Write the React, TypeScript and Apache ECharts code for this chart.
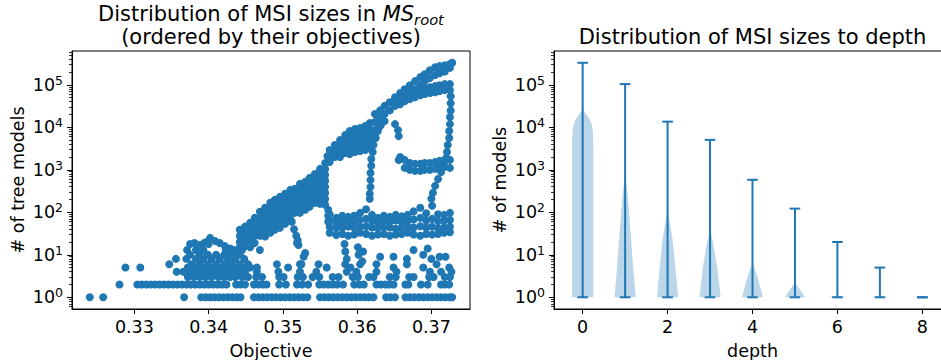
import React, { useEffect, useRef } from 'react';
import * as echarts from 'echarts';

const FONT = 'DejaVu Sans';
const BLUE = '#1f77b4';
const BODY = 'rgba(31,119,180,0.3)';

// ---------- Left panel data: objective vs # of tree models ----------
const objectiveTicks = [0.33, 0.34, 0.35, 0.36, 0.37];
const countTicks = [1, 10, 100, 1000, 10000, 100000];
const minorCountTicks = [0.6, 0.7, 0.8, 0.9, 2, 3, 4, 5, 6, 7, 8, 9, 20, 30, 40, 50, 60, 70, 80, 90,
  200, 300, 400, 500, 600, 700, 800, 900, 2000, 3000, 4000, 5000, 6000, 7000, 8000, 9000,
  20000, 30000, 40000, 50000, 60000, 70000, 80000, 90000, 200000, 300000, 400000, 500000, 600000];

// objectives of MSIs of size 1
const size1Objectives = [0.3240, 0.3258, 0.3367, 0.3390, 0.3396, 0.3402, 0.3408, 0.3414, 0.3420, 0.3426, 0.3432,
  0.3438, 0.3443, 0.3461, 0.3467, 0.3473, 0.3479, 0.3485, 0.3491, 0.3497, 0.3503, 0.3509, 0.3515, 0.3521, 0.3527,
  0.3533, 0.3550, 0.3556, 0.3562, 0.3568, 0.3574, 0.3580, 0.3586, 0.3592, 0.3598, 0.3604, 0.3610, 0.3616, 0.3622,
  0.3639, 0.3645, 0.3651, 0.3665, 0.3671, 0.3677, 0.3683, 0.3689, 0.3695, 0.3701, 0.3707, 0.3713, 0.3719, 0.3725, 0.3728];

// objectives of MSIs of size 2
const size2Objectives = [0.3280, 0.3304, 0.3310, 0.3316, 0.3322, 0.3328, 0.3334, 0.3340, 0.3346, 0.3352, 0.3358,
  0.3364, 0.3370, 0.3376, 0.3382, 0.3388, 0.3394, 0.3400, 0.3406, 0.3412, 0.3418, 0.3424, 0.3437, 0.3443, 0.3449,
  0.3461, 0.3467, 0.3473, 0.3478, 0.3495, 0.3504, 0.3519, 0.3526, 0.3534, 0.3549, 0.3555, 0.3561, 0.3567, 0.3573,
  0.3581, 0.3596, 0.3603, 0.3609, 0.3626, 0.3632, 0.3638, 0.3643, 0.3649, 0.3665, 0.3669, 0.3686, 0.3695, 0.3713,
  0.3718, 0.3724];

// objectives of MSIs of size 3
const size3Objectives = [0.3372, 0.3380, 0.3388, 0.3396, 0.3404, 0.3413, 0.3421, 0.3429, 0.3436, 0.3445, 0.3453,
  0.3464, 0.3472, 0.3495, 0.3501, 0.3520, 0.3527, 0.3540, 0.3549, 0.3567, 0.3575, 0.3594, 0.3601, 0.3616, 0.3622,
  0.3644, 0.3652, 0.3670, 0.3676, 0.3697, 0.3703, 0.3718, 0.3725];

// small MSIs (4..25) on the left side
const lowerLeftCluster: [number, number][] = [
  [0.3288, 5], [0.3308, 5], [0.3347, 6], [0.3356, 8], [0.3357, 4], [0.3366, 4],
  [0.3368, 4], [0.3376, 4], [0.3384, 4], [0.3392, 4], [0.3400, 4], [0.3409, 4], [0.3417, 4], [0.3425, 4], [0.3433, 4], [0.3441, 4], [0.3449, 4],
  [0.3372, 5], [0.3383, 5], [0.3393, 5], [0.3404, 5], [0.3415, 5], [0.3426, 5], [0.3436, 5], [0.3448, 5], [0.3456, 5],
  [0.3377, 6], [0.3388, 6], [0.3399, 6], [0.3410, 6], [0.3421, 6], [0.3431, 6], [0.3442, 6], [0.3453, 6],
  [0.3370, 8], [0.3383, 8], [0.3393, 8], [0.3404, 8], [0.3415, 8], [0.3426, 8], [0.3436, 8], [0.3448, 8],
  [0.3375, 10], [0.3388, 10], [0.3399, 10], [0.3410, 10], [0.3421, 10], [0.3431, 10], [0.3442, 10],
  [0.3371, 13], [0.3383, 13], [0.3393, 13], [0.3423, 13], [0.3434, 13], [0.3445, 13],
  [0.3375, 18], [0.3381, 19], [0.3388, 17], [0.3394, 19], [0.3400, 18], [0.3450, 16], [0.3397, 20], [0.3456, 20],
  [0.3402, 25], [0.3409, 21], [0.3415, 19], [0.3422, 16], [0.3429, 14], [0.3435, 12],
];

// small MSIs (4..20) on the right side
const lowerRightSparse: [number, number][] = [
  [0.3465, 4], [0.3494, 4], [0.3523, 4], [0.3545, 4], [0.3586, 4], [0.3599, 4], [0.3626, 4], [0.3653, 4], [0.3698, 4], [0.3713, 4],
  [0.3465, 5], [0.3492, 6], [0.3507, 5], [0.3523, 6], [0.3548, 6], [0.3559, 5], [0.3584, 6], [0.3591, 5], [0.3626, 6],
  [0.3649, 5], [0.3667, 6], [0.3689, 5], [0.3707, 6], [0.3604, 6], [0.3631, 9], [0.3667, 8],
  [0.3469, 13], [0.3521, 17], [0.3519, 19], [0.3584, 12], [0.3602, 10], [0.3608, 12], [0.3649, 9], [0.3689, 10],
  [0.3700, 8], [0.3711, 9], [0.3525, 6], [0.3528, 9], [0.3530, 11], [0.3583, 18], [0.3586, 8], [0.3601, 15],
  [0.3607, 7], [0.3676, 13], [0.3695, 14], [0.3719, 9], [0.3724, 5], [0.3727, 4],
  [0.3512, 60], [0.3515, 40], [0.3518, 28], [0.3520, 22],
];

// main rising band: objective with the sizes stacked at it
const mainBandColumns: [number, number[]][] = [
  [0.3442, [39, 28, 20, 15]],
  [0.3449, [46, 33, 24, 17]],
  [0.3456, [57, 41, 30, 21, 15]],
  [0.3462, [74, 54, 39, 28, 19]],
  [0.3469, [103, 74, 54, 39, 28]],
  [0.3476, [128, 92, 67, 48, 35, 27]],
  [0.3483, [167, 121, 87, 63, 46, 33]],
  [0.3489, [196, 142, 103, 74, 54, 39]],
  [0.3496, [231, 167, 121, 87, 63, 43]],
  [0.3503, [272, 196, 142, 103, 74, 54]],
  [0.3510, [337, 244, 176, 128, 92, 70]],
  [0.3516, [356, 258, 186, 135, 97]],
  [0.3523, [467, 337, 244, 176, 128, 97]],
  [0.3530, [520, 376, 272, 196, 142, 115]],
  [0.3536, [645, 467, 337, 244, 176, 135]],
  [0.3543, [800, 580, 419, 303, 219, 167]],
  [0.3550, [1050, 760, 550, 397, 287, 207, 158]],
  [0.3557, [1450, 1050, 760, 550, 397, 287, 207, 150]],
  [0.3560, [2100]],
  [0.3561, [115, 83, 60]],
  [0.3563, [2930, 2120, 1530]],
  [0.3570, [3850, 2780, 2010]],
  [0.3577, [5040, 3640, 2630, 2010]],
  [0.3584, [6590, 4770, 3450, 2490]],
  [0.3590, [8190, 5920, 4280, 3100, 2360]],
  [0.3597, [9130, 6590, 4770, 3450, 2630]],
  [0.3604, [9640, 6960, 5040, 3640, 2780]],
  [0.3611, [10700, 7760, 5610, 4060, 2930]],
  [0.3617, [12600, 9130, 6590, 4770, 3450]],
  [0.3624, [20500, 13300, 8600, 5900]],
  [0.3631, [25000, 16500, 10700]],
  [0.3637, [32000, 20500, 14000]],
];

// top branch reaching the largest MSI
const topBranch: [number, number][] = [
  [0.3644, 39000], [0.3644, 25000], [0.3651, 51000], [0.3651, 33000], [0.3658, 64000], [0.3658, 41000],
  [0.3664, 79000], [0.3664, 51000], [0.3671, 98000], [0.3671, 64000], [0.3678, 122000], [0.3678, 79000],
  [0.3685, 152000], [0.3685, 98000], [0.3691, 178000], [0.3691, 122000], [0.3698, 221000], [0.3698, 144000],
  [0.3705, 260000], [0.3705, 169000], [0.3711, 275000], [0.3711, 188000], [0.3718, 290000], [0.3718, 205000],
  [0.3725, 310000], [0.3725, 250000], [0.3728, 330000],
];

// second branch just below it
const secondBranch: [number, number][] = [
  [0.3651, 44000], [0.3651, 32000], [0.3658, 49000], [0.3658, 35000], [0.3664, 57000], [0.3664, 41000],
  [0.3671, 64000], [0.3671, 46000], [0.3678, 71000], [0.3678, 51000], [0.3685, 79000], [0.3685, 57000],
  [0.3691, 84000], [0.3691, 61000], [0.3698, 88000], [0.3698, 64000], [0.3705, 93000], [0.3705, 67000],
  [0.3711, 98000], [0.3711, 71000], [0.3718, 104000], [0.3718, 75000], [0.3725, 104000], [0.3725, 75000],
];

// branch falling at the right edge
const rightDescent: [number, number][] = [
  [0.3726, 54000], [0.3726, 37000], [0.3726, 25000], [0.3725, 17500], [0.3725, 11900], [0.3724, 8200],
  [0.3724, 5600], [0.3722, 3850], [0.3721, 2630], [0.3720, 1900], [0.3717, 1300], [0.3713, 890],
  [0.3709, 610], [0.3705, 419], [0.3702, 287], [0.3700, 210],
];

// flat group around 1000
const flat1000: [number, number][] = [
  [0.3656, 1700], [0.3658, 2010], [0.3664, 1710], [0.3671, 1450], [0.3678, 1380], [0.3685, 1380], [0.3691, 1450],
  [0.3698, 1450], [0.3705, 1530], [0.3711, 1620], [0.3718, 1710], [0.3725, 1710],
  [0.3664, 1110], [0.3671, 995], [0.3678, 942], [0.3685, 942], [0.3691, 995], [0.3698, 995], [0.3705, 1050],
  [0.3711, 1110], [0.3718, 1170], [0.3725, 1110],
];

// branch falling at 0.362 and the short hook at 0.365
const middleDescent: [number, number][] = [
  [0.3632, 11300], [0.3628, 8200], [0.3625, 5600], [0.3622, 3850], [0.3621, 2630], [0.3619, 1800], [0.3619, 1240],
  [0.3618, 846], [0.3618, 580], [0.3618, 397], [0.3617, 272], [0.3617, 207],
  [0.3651, 11900], [0.3655, 8600], [0.3656, 6200],
];

// flat group around 50 (four stacked rows)
const flat50Objectives = [0.3563, 0.3572, 0.3580, 0.3588, 0.3596, 0.3604, 0.3612, 0.3620, 0.3628, 0.3636, 0.3644,
  0.3652, 0.3660, 0.3668, 0.3676, 0.3685, 0.3693, 0.3701, 0.3709, 0.3717, 0.3725];
const flat50Row1 = [90, 74, 83, 78, 83, 97, 118, 87, 74, 83, 78, 87, 80, 87, 105, 128, 95, 142, 90, 87, 97];
const flat50Row2 = [63, 57, 60, 63, 58, 66, 70, 63, 58, 62, 60, 64, 60, 63, 68, 74, 64, 70, 62, 63, 66];
const flat50Row3 = [45, 42, 44, 46, 43, 45, 47, 44, 42, 45, 44, 41, 44, 46, 44, 47, 44, 46, 42, 44, 46];
const flat50Row4 = [33, 29, 31, 28, 30, 33, 31, 28, 30, 31, 28, 30, 31, 33, 30, 28, 31, 30, 31, 33, 34];

// ---------- Right panel data: MSI sizes per depth ----------
const depths = [0, 1, 2, 3, 4, 5, 6, 7, 8];
const depthTicks = [0, 2, 4, 6, 8];
const depthMin = [1, 1, 1, 1, 1, 1, 1, 1, 1];
const depthMax = [330000, 104000, 13600, 5060, 582, 122, 20, 5, 1];
// violin outline: [size, half width]
const violinProfiles: [number, number][][] = [
  [[1, 0.25], [3000, 0.25], [6000, 0.245], [9000, 0.235], [12000, 0.21], [15000, 0.17], [18000, 0.12], [21000, 0.07], [24000, 0.03], [26500, 0]],
  [[1, 0.25], [5, 0.19], [32, 0.13], [200, 0.07], [500, 0.025], [760, 0]],
  [[1, 0.25], [5, 0.185], [23, 0.118], [60, 0.05], [105, 0]],
  [[1, 0.25], [5, 0.17], [15, 0.09], [42, 0]],
  [[1, 0.245], [2.6, 0.137], [4.5, 0.06], [6.4, 0]],
  [[1, 0.235], [1.5, 0.12], [2.2, 0]],
  [[1, 0.25], [1.1, 0]],
  [[1, 0.25], [1.06, 0]],
  [],
];

function buildScatter(): [number, number][] {
  const pts: [number, number][] = [];
  size1Objectives.forEach((o) => pts.push([o, 1]));
  size2Objectives.forEach((o) => pts.push([o, 2]));
  size3Objectives.forEach((o) => pts.push([o, 3]));
  pts.push(...lowerLeftCluster, ...lowerRightSparse);
  mainBandColumns.forEach(([o, sizes]) => sizes.forEach((s) => pts.push([o, s])));
  pts.push(...topBranch, ...secondBranch, ...rightDescent, ...flat1000, ...middleDescent);
  flat50Objectives.forEach((o, i) => {
    pts.push([o, flat50Row1[i]], [o, flat50Row2[i]], [o, flat50Row3[i]], [o, flat50Row4[i]]);
  });
  return pts;
}

const txt = { fontFamily: FONT, fontSize: 17.5, color: '#000' };
const logRich = {
  b: { fontFamily: FONT, fontSize: 17.5, color: '#000', lineHeight: 22, verticalAlign: 'middle' },
  s: { fontFamily: FONT, fontSize: 12.5, color: '#000', lineHeight: 13, verticalAlign: 'top' },
};
const logFormatter = (v: number) => `{b|10}{s|${Math.round(Math.log10(v))}}`;
const Y_MIN = 0.53;
const Y_MAX = 625000;

function logAxis(gridIndex: number, name: string) {
  return {
    type: 'log', logBase: 10, gridIndex, min: Y_MIN, max: Y_MAX, position: 'left',
    name, nameLocation: 'middle', nameGap: 45, nameTextStyle: txt,
    axisLine: { show: true, onZero: false, lineStyle: { color: '#000', width: 1 } },
    axisTick: { show: true, length: 5, customValues: countTicks, lineStyle: { color: '#000', width: 1 } },
    axisLabel: { customValues: countTicks, formatter: logFormatter, rich: logRich, margin: 9 },
    splitLine: { show: false }, minorTick: { show: false }, minorSplitLine: { show: false },
  };
}
function minorAxis(gridIndex: number) {
  return {
    type: 'log', logBase: 10, gridIndex, min: Y_MIN, max: Y_MAX, position: 'left', offset: 0,
    axisLine: { show: false, onZero: false },
    axisTick: { show: true, length: 3, customValues: minorCountTicks, lineStyle: { color: '#000', width: 0.8 } },
    axisLabel: { show: false }, splitLine: { show: false },
  };
}

function buildOption() {
  const gridBase = { show: true, borderColor: '#000', borderWidth: 1, containLabel: false, outerBoundsMode: 'none', top: 51, height: 258 };
  return {
    animation: false,
    backgroundColor: '#fff',
    textStyle: { fontFamily: FONT },
    grid: [
      { ...gridBase, left: 72, width: 398 },
      { ...gridBase, left: 554, width: 397 },
    ],
    xAxis: [
      {
        type: 'value', gridIndex: 0, min: 0.3216, max: 0.3752, position: 'bottom',
        name: 'Objective', nameLocation: 'middle', nameGap: 33, nameTextStyle: txt,
        axisLine: { show: true, onZero: false, lineStyle: { color: '#000', width: 1 } },
        axisTick: { show: true, length: 5, customValues: objectiveTicks, lineStyle: { color: '#000' } },
        axisLabel: { customValues: objectiveTicks, formatter: (v: number) => v.toFixed(2), margin: 9, ...txt },
        splitLine: { show: false },
      },
      {
        type: 'value', gridIndex: 1, min: -0.675, max: 8.675, position: 'bottom',
        name: 'depth', nameLocation: 'middle', nameGap: 33, nameTextStyle: txt,
        axisLine: { show: true, onZero: false, lineStyle: { color: '#000', width: 1 } },
        axisTick: { show: true, length: 5, customValues: depthTicks, lineStyle: { color: '#000' } },
        axisLabel: { customValues: depthTicks, formatter: (v: number) => String(Math.round(v)), margin: 9, ...txt },
        splitLine: { show: false },
      },
    ],
    yAxis: [logAxis(0, '# of tree models'), minorAxis(0), logAxis(1, '# of models'), minorAxis(1)],
    graphic: [
      {
        type: 'text', x: 271, y: 14,
        style: {
          text: '{n|Distribution of MSI sizes in }{i|MS}{s|root}',
          align: 'center', verticalAlign: 'middle',
          rich: {
            n: { fontFamily: FONT, fontSize: 21, color: '#000', lineHeight: 26, verticalAlign: 'middle' },
            i: { fontFamily: FONT, fontSize: 21, fontStyle: 'italic', color: '#000', lineHeight: 26, verticalAlign: 'middle' },
            s: { fontFamily: FONT, fontSize: 14.7, fontStyle: 'italic', color: '#000', lineHeight: 15, verticalAlign: 'bottom' },
          },
        },
      },
      {
        type: 'text', x: 271, y: 37,
        style: { text: '(ordered by their objectives)', fontFamily: FONT, fontSize: 21, fill: '#000', align: 'center', verticalAlign: 'middle' },
      },
      {
        type: 'text', x: 752.5, y: 37,
        style: { text: 'Distribution of MSI sizes to depth', fontFamily: FONT, fontSize: 21, fill: '#000', align: 'center', verticalAlign: 'middle' },
      },
    ],
    series: [
      {
        type: 'scatter', xAxisIndex: 0, yAxisIndex: 0, data: buildScatter(),
        symbol: 'circle', symbolSize: 8, itemStyle: { color: BLUE, opacity: 1 }, silent: true,
      },
      {
        type: 'custom', xAxisIndex: 1, yAxisIndex: 2, silent: true,
        data: depths.map((d, i) => [d, depthMax[i]]),
        renderItem: (params: any, api: any) => {
          const i = params.dataIndex;
          const d = depths[i];
          const prof = violinProfiles[i];
          if (!prof.length) return null;
          const left = prof.map(([v, w]) => api.coord([d - w, v]));
          const right = prof.slice().reverse().map(([v, w]) => api.coord([d + w, v]));
          return { type: 'polygon', shape: { points: [...left, ...right] }, style: { fill: BODY, stroke: 'none' } };
        },
      },
      {
        type: 'custom', xAxisIndex: 1, yAxisIndex: 2, silent: true,
        data: depths.map((d, i) => [d, depthMin[i], depthMax[i]]),
        renderItem: (params: any, api: any) => {
          const i = params.dataIndex;
          const d = depths[i];
          const lo = depthMin[i];
          const hi = depthMax[i];
          const st = { stroke: BLUE, lineWidth: 2 };
          const a = api.coord([d, lo]);
          const b = api.coord([d, hi]);
          const c1 = api.coord([d - 0.125, hi]);
          const c2 = api.coord([d + 0.125, hi]);
          const c3 = api.coord([d - 0.125, lo]);
          const c4 = api.coord([d + 0.125, lo]);
          return {
            type: 'group',
            children: [
              { type: 'line', shape: { x1: a[0], y1: a[1], x2: b[0], y2: b[1] }, style: st },
              { type: 'line', shape: { x1: c1[0], y1: c1[1], x2: c2[0], y2: c2[1] }, style: st },
              { type: 'line', shape: { x1: c3[0], y1: c3[1], x2: c4[0], y2: c4[1] }, style: st },
            ],
          };
        },
      },
    ],
  };
}

export default function App() {
  const ref = useRef<HTMLDivElement>(null);
  useEffect(() => {
    const chart = echarts.init(ref.current as HTMLDivElement, null, { renderer: 'svg' });
    chart.setOption(buildOption() as any);
    return () => chart.dispose();
  }, []);
  return (
    <div
      ref={ref}
      style={{ position: 'fixed', left: 0, top: 0, width: 941, height: 360, background: '#fff' }}
    />
  );
}
